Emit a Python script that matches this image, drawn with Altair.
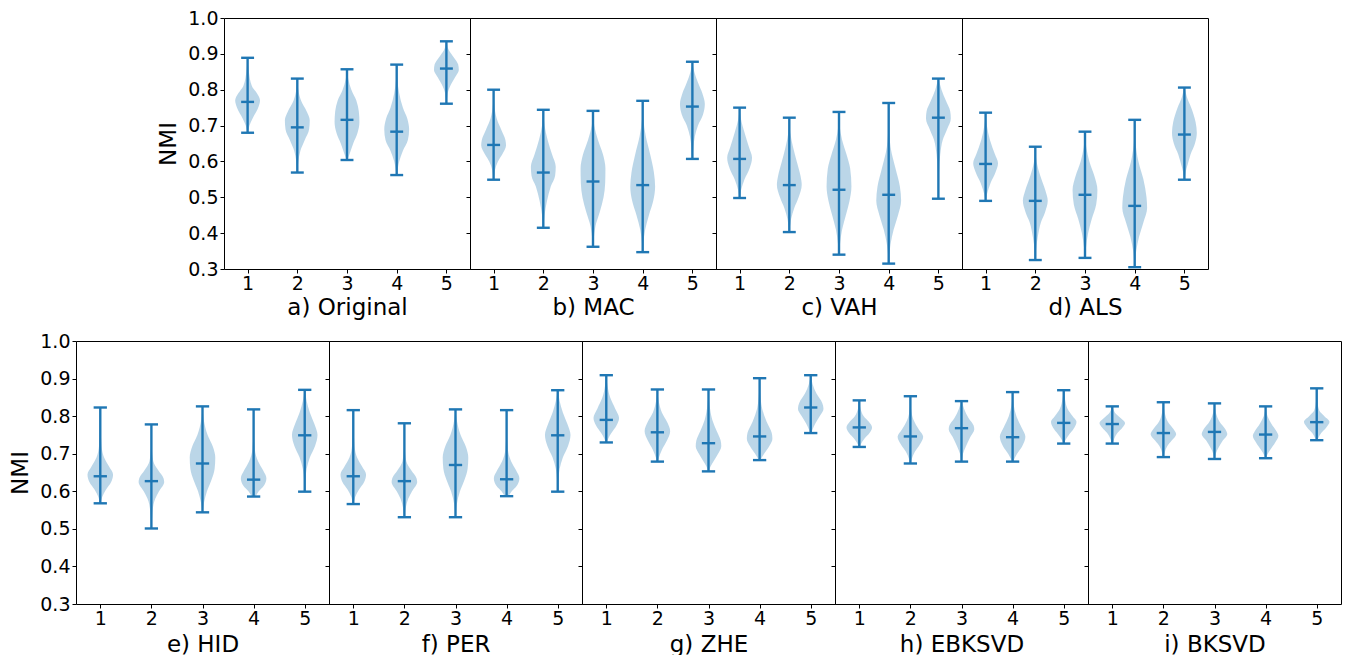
import altair as alt
import pandas as pd

FONT = "DejaVu Sans"
C0 = "#1f77b4"

titles = ["a) Original", "b) MAC", "c) VAH", "d) ALS",
          "e) HID", "f) PER", "g) ZHE", "h) EBKSVD", "i) BKSVD"]
positions = [1, 2, 3, 4, 5]
y_ticks = [0.3, 0.4, 0.5, 0.6, 0.7, 0.8, 0.9, 1.0]

# ---- extrema and medians per panel ----
a_min = [0.680, 0.569, 0.604, 0.562, 0.761]
a_med = [0.766, 0.695, 0.716, 0.683, 0.859]
a_max = [0.889, 0.831, 0.857, 0.870, 0.935]

b_min = [0.549, 0.415, 0.362, 0.347, 0.607]
b_med = [0.646, 0.569, 0.544, 0.534, 0.753]
b_max = [0.800, 0.744, 0.741, 0.769, 0.878]

c_min = [0.498, 0.403, 0.340, 0.315, 0.496]
c_med = [0.607, 0.534, 0.521, 0.507, 0.722]
c_max = [0.750, 0.722, 0.738, 0.763, 0.831]

d_min = [0.490, 0.325, 0.331, 0.305, 0.549]
d_med = [0.593, 0.490, 0.507, 0.476, 0.675]
d_max = [0.736, 0.641, 0.683, 0.716, 0.806]

e_min = [0.568, 0.501, 0.544, 0.586, 0.599]
e_med = [0.640, 0.627, 0.674, 0.631, 0.749]
e_max = [0.823, 0.778, 0.826, 0.818, 0.870]

f_min = [0.566, 0.531, 0.531, 0.587, 0.599]
f_med = [0.640, 0.627, 0.670, 0.632, 0.749]
f_max = [0.816, 0.781, 0.818, 0.816, 0.869]

g_min = [0.730, 0.679, 0.653, 0.683, 0.755]
g_med = [0.790, 0.757, 0.728, 0.746, 0.823]
g_max = [0.909, 0.871, 0.871, 0.901, 0.909]

h_min = [0.718, 0.674, 0.679, 0.679, 0.727]
h_med = [0.770, 0.746, 0.768, 0.744, 0.782]
h_max = [0.842, 0.853, 0.840, 0.864, 0.869]

i_min = [0.727, 0.691, 0.686, 0.688, 0.736]
i_med = [0.779, 0.755, 0.758, 0.751, 0.784]
i_max = [0.826, 0.837, 0.834, 0.826, 0.874]

# ---- violin outlines: (NMI value, relative density width) ----
a_shape = [
    [(0.889, 0.0), (0.85, 0.1), (0.81, 0.35), (0.79, 0.75), (0.77, 1.0), (0.75, 0.85), (0.72, 0.4), (0.70, 0.15), (0.680, 0.02)],
    [(0.831, 0.0), (0.80, 0.08), (0.77, 0.3), (0.74, 0.75), (0.715, 1.0), (0.69, 0.95), (0.66, 0.6), (0.63, 0.25), (0.60, 0.08), (0.569, 0.02)],
    [(0.857, 0.0), (0.83, 0.1), (0.80, 0.35), (0.77, 0.75), (0.74, 0.95), (0.71, 1.0), (0.68, 0.85), (0.65, 0.5), (0.62, 0.2), (0.604, 0.05)],
    [(0.870, 0.0), (0.83, 0.05), (0.79, 0.2), (0.75, 0.5), (0.72, 0.85), (0.69, 1.0), (0.66, 0.9), (0.63, 0.5), (0.60, 0.2), (0.562, 0.02)],
    [(0.935, 0.02), (0.91, 0.2), (0.89, 0.6), (0.87, 0.95), (0.855, 1.0), (0.835, 0.7), (0.81, 0.3), (0.79, 0.1), (0.761, 0.02)],
]
b_shape = [
    [(0.800, 0.0), (0.76, 0.05), (0.72, 0.25), (0.69, 0.6), (0.66, 0.95), (0.645, 1.0), (0.62, 0.7), (0.60, 0.35), (0.575, 0.1), (0.549, 0.02)],
    [(0.744, 0.0), (0.70, 0.1), (0.66, 0.35), (0.62, 0.7), (0.585, 1.0), (0.56, 0.95), (0.53, 0.6), (0.49, 0.3), (0.45, 0.1), (0.415, 0.02)],
    [(0.741, 0.0), (0.70, 0.1), (0.66, 0.4), (0.62, 0.8), (0.58, 1.0), (0.54, 0.98), (0.50, 0.85), (0.46, 0.55), (0.42, 0.2), (0.38, 0.05), (0.362, 0.02)],
    [(0.769, 0.0), (0.72, 0.05), (0.67, 0.25), (0.62, 0.6), (0.57, 0.9), (0.53, 1.0), (0.49, 0.85), (0.45, 0.5), (0.41, 0.2), (0.37, 0.05), (0.347, 0.02)],
    [(0.878, 0.0), (0.85, 0.15), (0.82, 0.45), (0.79, 0.8), (0.76, 1.0), (0.73, 0.85), (0.70, 0.45), (0.67, 0.2), (0.64, 0.08), (0.607, 0.02)],
]
c_shape = [
    [(0.750, 0.0), (0.72, 0.1), (0.68, 0.4), (0.64, 0.75), (0.61, 1.0), (0.58, 0.8), (0.55, 0.4), (0.52, 0.12), (0.498, 0.02)],
    [(0.722, 0.0), (0.68, 0.08), (0.64, 0.3), (0.60, 0.6), (0.56, 0.9), (0.535, 1.0), (0.50, 0.75), (0.47, 0.4), (0.44, 0.15), (0.403, 0.02)],
    [(0.738, 0.0), (0.70, 0.05), (0.66, 0.25), (0.62, 0.6), (0.58, 0.9), (0.53, 1.0), (0.49, 0.85), (0.45, 0.55), (0.41, 0.25), (0.37, 0.08), (0.340, 0.02)],
    [(0.763, 0.0), (0.70, 0.03), (0.64, 0.15), (0.58, 0.55), (0.53, 0.9), (0.49, 1.0), (0.45, 0.75), (0.41, 0.4), (0.37, 0.15), (0.34, 0.05), (0.315, 0.02)],
    [(0.831, 0.02), (0.80, 0.25), (0.77, 0.6), (0.74, 0.95), (0.72, 1.0), (0.69, 0.7), (0.66, 0.35), (0.62, 0.15), (0.57, 0.05), (0.496, 0.02)],
]
d_shape = [
    [(0.736, 0.0), (0.70, 0.1), (0.66, 0.35), (0.62, 0.75), (0.595, 1.0), (0.57, 0.8), (0.54, 0.4), (0.51, 0.12), (0.490, 0.02)],
    [(0.641, 0.0), (0.60, 0.1), (0.56, 0.4), (0.52, 0.8), (0.49, 1.0), (0.46, 0.8), (0.43, 0.45), (0.39, 0.2), (0.35, 0.05), (0.325, 0.02)],
    [(0.683, 0.0), (0.64, 0.1), (0.60, 0.35), (0.56, 0.75), (0.52, 1.0), (0.48, 0.9), (0.44, 0.55), (0.40, 0.25), (0.36, 0.08), (0.331, 0.02)],
    [(0.716, 0.0), (0.66, 0.05), (0.60, 0.3), (0.55, 0.7), (0.50, 0.95), (0.47, 1.0), (0.43, 0.7), (0.39, 0.35), (0.35, 0.12), (0.305, 0.02)],
    [(0.806, 0.02), (0.78, 0.2), (0.75, 0.55), (0.71, 0.9), (0.68, 1.0), (0.65, 0.85), (0.62, 0.5), (0.59, 0.25), (0.57, 0.1), (0.549, 0.02)],
]
e_shape = [
    [(0.823, 0.0), (0.77, 0.03), (0.72, 0.1), (0.69, 0.3), (0.665, 0.7), (0.645, 1.0), (0.625, 0.85), (0.605, 0.45), (0.585, 0.15), (0.568, 0.02)],
    [(0.778, 0.0), (0.72, 0.03), (0.68, 0.15), (0.655, 0.55), (0.635, 0.95), (0.625, 1.0), (0.60, 0.6), (0.58, 0.3), (0.55, 0.1), (0.501, 0.02)],
    [(0.826, 0.0), (0.79, 0.1), (0.75, 0.4), (0.72, 0.8), (0.69, 1.0), (0.66, 0.95), (0.63, 0.7), (0.60, 0.35), (0.57, 0.12), (0.544, 0.02)],
    [(0.818, 0.0), (0.76, 0.02), (0.71, 0.1), (0.68, 0.35), (0.655, 0.75), (0.635, 1.0), (0.615, 0.8), (0.60, 0.4), (0.586, 0.15)],
    [(0.870, 0.02), (0.84, 0.15), (0.81, 0.4), (0.78, 0.75), (0.75, 1.0), (0.72, 0.8), (0.69, 0.4), (0.66, 0.15), (0.63, 0.05), (0.599, 0.02)],
]
f_shape = [
    [(0.816, 0.0), (0.77, 0.03), (0.72, 0.1), (0.69, 0.3), (0.665, 0.7), (0.645, 1.0), (0.625, 0.85), (0.605, 0.45), (0.585, 0.15), (0.566, 0.02)],
    [(0.781, 0.0), (0.72, 0.03), (0.68, 0.15), (0.655, 0.55), (0.635, 0.95), (0.625, 1.0), (0.60, 0.6), (0.58, 0.3), (0.555, 0.1), (0.531, 0.02)],
    [(0.818, 0.0), (0.79, 0.1), (0.75, 0.4), (0.72, 0.8), (0.69, 1.0), (0.66, 0.95), (0.63, 0.7), (0.60, 0.35), (0.565, 0.1), (0.531, 0.02)],
    [(0.816, 0.0), (0.76, 0.02), (0.71, 0.1), (0.68, 0.35), (0.655, 0.75), (0.635, 1.0), (0.615, 0.8), (0.60, 0.4), (0.587, 0.15)],
    [(0.869, 0.02), (0.84, 0.15), (0.81, 0.4), (0.78, 0.75), (0.75, 1.0), (0.72, 0.8), (0.69, 0.4), (0.66, 0.15), (0.63, 0.05), (0.599, 0.02)],
]
g_shape = [
    [(0.909, 0.0), (0.88, 0.1), (0.85, 0.3), (0.82, 0.7), (0.795, 1.0), (0.775, 0.8), (0.755, 0.4), (0.74, 0.15), (0.730, 0.05)],
    [(0.871, 0.0), (0.84, 0.1), (0.81, 0.35), (0.785, 0.75), (0.76, 1.0), (0.735, 0.75), (0.71, 0.35), (0.69, 0.12), (0.679, 0.03)],
    [(0.871, 0.0), (0.83, 0.08), (0.79, 0.3), (0.76, 0.65), (0.735, 0.95), (0.72, 1.0), (0.70, 0.75), (0.68, 0.4), (0.665, 0.15), (0.653, 0.03)],
    [(0.901, 0.0), (0.86, 0.05), (0.82, 0.2), (0.785, 0.55), (0.755, 0.95), (0.74, 1.0), (0.72, 0.75), (0.70, 0.35), (0.683, 0.05)],
    [(0.909, 0.0), (0.885, 0.15), (0.86, 0.45), (0.835, 0.9), (0.82, 1.0), (0.80, 0.7), (0.78, 0.35), (0.765, 0.15), (0.755, 0.05)],
]
h_shape = [
    [(0.842, 0.0), (0.82, 0.1), (0.80, 0.35), (0.785, 0.75), (0.77, 1.0), (0.755, 0.8), (0.74, 0.4), (0.725, 0.12), (0.718, 0.04)],
    [(0.853, 0.0), (0.82, 0.05), (0.79, 0.25), (0.765, 0.65), (0.745, 1.0), (0.725, 0.75), (0.705, 0.35), (0.685, 0.1), (0.674, 0.03)],
    [(0.840, 0.02), (0.82, 0.2), (0.795, 0.55), (0.775, 0.95), (0.765, 1.0), (0.745, 0.7), (0.72, 0.35), (0.70, 0.12), (0.679, 0.03)],
    [(0.864, 0.0), (0.83, 0.08), (0.80, 0.3), (0.77, 0.7), (0.745, 1.0), (0.72, 0.75), (0.70, 0.35), (0.685, 0.12), (0.679, 0.03)],
    [(0.869, 0.0), (0.845, 0.1), (0.82, 0.3), (0.80, 0.7), (0.785, 1.0), (0.765, 0.75), (0.75, 0.4), (0.735, 0.12), (0.727, 0.03)],
]
i_shape = [
    [(0.826, 0.03), (0.81, 0.2), (0.795, 0.65), (0.782, 1.0), (0.77, 0.8), (0.755, 0.4), (0.74, 0.15), (0.727, 0.03)],
    [(0.837, 0.0), (0.81, 0.1), (0.785, 0.35), (0.765, 0.8), (0.752, 1.0), (0.735, 0.65), (0.72, 0.3), (0.70, 0.08), (0.691, 0.02)],
    [(0.834, 0.0), (0.81, 0.1), (0.785, 0.4), (0.765, 0.85), (0.752, 1.0), (0.735, 0.65), (0.715, 0.3), (0.70, 0.1), (0.686, 0.02)],
    [(0.826, 0.0), (0.80, 0.15), (0.78, 0.45), (0.76, 0.85), (0.748, 1.0), (0.73, 0.75), (0.71, 0.35), (0.695, 0.1), (0.688, 0.03)],
    [(0.874, 0.0), (0.84, 0.05), (0.815, 0.2), (0.80, 0.6), (0.785, 1.0), (0.77, 0.75), (0.755, 0.35), (0.74, 0.1), (0.736, 0.03)],
]

mins = [a_min, b_min, c_min, d_min, e_min, f_min, g_min, h_min, i_min]
meds = [a_med, b_med, c_med, d_med, e_med, f_med, g_med, h_med, i_med]
maxs = [a_max, b_max, c_max, d_max, e_max, f_max, g_max, h_max, i_max]
shapes = [a_shape, b_shape, c_shape, d_shape, e_shape, f_shape, g_shape, h_shape, i_shape]

HALF_BODY = 0.25   # matplotlib widths=0.5 -> half width
HALF_CAP = 0.13

x_scale = alt.Scale(domain=[0.525, 5.475], nice=False, zero=False)
y_scale = alt.Scale(domain=[0.3, 1.0], nice=False, zero=False)


def panel(k, w, h, first, title_pad):
    vrows = []
    for p, shp in zip(positions, shapes[k]):
        for v, rw in shp:
            vrows.append({"pos": p, "v": v, "w": rw})
    dv = pd.DataFrame(vrows)
    ds = pd.DataFrame({"pos": positions, "vmin": mins[k], "vmed": meds[k], "vmax": maxs[k]})
    crow = []
    for p, a, m, b in zip(positions, mins[k], meds[k], maxs[k]):
        for val in (a, m, b):
            crow.append({"pos": p, "val": val})
    dc = pd.DataFrame(crow)

    xaxis = alt.Axis(values=positions, format="d", title=titles[k], labelPadding=1,
                     titlePadding=title_pad)
    if first:
        yaxis = alt.Axis(values=y_ticks, format=".1f", title="NMI", labelPadding=2,
                         titlePadding=7)
    else:
        yaxis = alt.Axis(values=y_ticks, labels=False, title=None)

    body = alt.Chart(dv).transform_calculate(
        lo=f"datum.pos - {HALF_BODY} * datum.w",
        hi=f"datum.pos + {HALF_BODY} * datum.w",
    ).mark_area(orient="horizontal", interpolate="monotone", color=C0, opacity=0.3).encode(
        y=alt.Y("v:Q", scale=y_scale, axis=yaxis),
        x=alt.X("lo:Q", scale=x_scale, axis=xaxis),
        x2="hi:Q",
        detail="pos:N",
    )
    stem = alt.Chart(ds).mark_rule(color=C0, strokeWidth=2.4).encode(
        x=alt.X("pos:Q", scale=x_scale, axis=xaxis),
        y=alt.Y("vmin:Q", scale=y_scale, axis=yaxis),
        y2="vmax:Q",
    )
    caps = alt.Chart(dc).transform_calculate(
        lo=f"datum.pos - {HALF_CAP}",
        hi=f"datum.pos + {HALF_CAP}",
    ).mark_rule(color=C0, strokeWidth=2.4).encode(
        x=alt.X("lo:Q", scale=x_scale, axis=xaxis),
        x2="hi:Q",
        y=alt.Y("val:Q", scale=y_scale, axis=yaxis),
    )
    return alt.layer(body, stem, caps).properties(width=w, height=h)


# invisible filler to the left of the top row (indents the top row as in the picture)
spacer = alt.Chart(pd.DataFrame({"s": [0]})).mark_point(opacity=0).encode(
    x=alt.X("s:Q", axis=None), y=alt.Y("s:Q", axis=None)
).properties(width=148, height=251, view=alt.ViewBackground(stroke="transparent"))

top = alt.hconcat(spacer, *[panel(k, 246, 251, k == 0, 3) for k in range(4)],
                  spacing=0, bounds="flush")
bottom = alt.hconcat(*[panel(k, 253, 263, k == 4, 5) for k in range(4, 9)], spacing=0, bounds="flush")

chart = alt.vconcat(top, bottom, spacing=11).properties(
    padding={"left": 1, "top": 0, "right": 0, "bottom": 0}
).configure_view(
    stroke="black", strokeWidth=1
).configure_axis(
    grid=False, domain=False, tickSize=4, tickColor="black", tickWidth=1,
    labelFont=FONT, labelFontSize=19, labelColor="black",
    titleFont=FONT, titleFontSize=23, titleFontWeight="normal", titleColor="black",
)

chart.save("out.html", embed_options={"renderer": "svg", "actions": False})
